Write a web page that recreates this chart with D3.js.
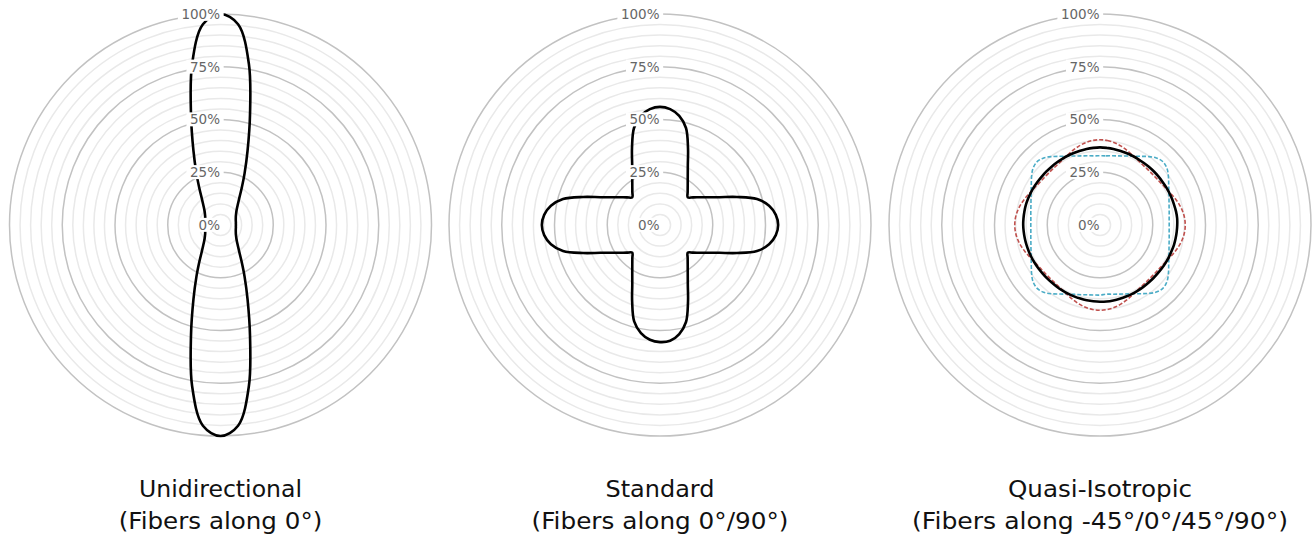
<!DOCTYPE html>
<html>
<head>
<meta charset="utf-8">
<script src="https://cdn.jsdelivr.net/npm/d3@7"></script>
<style>
  html, body { margin: 0; padding: 0; background: #fff; }
  svg { display: block; }
</style>
</head>
<body>
<svg id="chart" width="1314" height="536"></svg>
<script>
// ---- data ----
const angles = [0,5,10,15,20,25,30,35,40,45,50,55,60,65,70,75,80,85,
                90,95,100,105,110,115,120,125,130,135,140,145,150,155,160,165,170,175,
                180,185,190,195,200,205,210,215,220,225,230,235,240,245,250,255,260,265,
                270,275,280,285,290,295,300,305,310,315,320,325,330,335,340,345,350,355];

const unidirectional = [100,95.5,77.5,54,37.5,27,20,15.5,12.8,11,9.8,9,8.4,8,7.7,7.5,7.4,7.3,
                        7.3,7.3,7.4,7.5,7.7,8,8.4,9,9.8,11,12.8,15.5,20,27,37.5,54,77.5,95.5,
                        100,95.5,77.5,54,37.5,27,20,15.5,12.8,11,9.8,9,8.4,8,7.7,7.5,7.4,7.3,
                        7.3,7.3,7.4,7.5,7.7,8,8.4,9,9.8,11,12.8,15.5,20,27,37.5,54,77.5,95.5];

const standard = [56,55.1,52.5,47.6,38.8,31.2,26.3,22.9,20.4,18.6,20.4,22.9,26.3,31.2,38.8,47.6,52.5,55.1,
                  56,55.1,52.5,47.6,38.8,31.2,26.3,22.9,20.4,18.6,20.4,22.9,26.3,31.2,38.8,47.6,52.5,55.1,
                  55.5,54.6,52,47.3,38.6,31.1,26.3,22.9,20.4,18.6,20.4,22.9,26.3,31.2,38.8,47.6,52.5,55.1,
                  56,55.1,52.5,47.6,38.8,31.2,26.3,22.9,20.4,18.6,20.4,22.9,26.3,31.2,38.8,47.6,52.5,55.1];

const quasiBlack = [36.8,36.7,36.6,36.4,36.3,36.2,36.1,36.0,36.0,36.0,36.0,36.0,36.1,36.2,36.3,36.4,36.6,36.7,
                    36.6,36.5,36.4,36.3,36.1,36.0,35.9,35.8,35.7,35.7,35.7,35.8,35.9,36.0,36.1,36.2,36.3,36.4,
                    36.4,36.3,36.2,36.1,36.0,35.9,35.8,35.7,35.6,35.6,35.6,35.7,35.8,35.9,36.0,36.1,36.2,36.3,
                    36.4,36.4,36.4,36.4,36.3,36.2,36.1,36.0,35.9,35.9,35.9,36.0,36.1,36.2,36.3,36.4,36.6,36.7];

const quasiRed = [40.4,40.2,39.6,38.7,37.6,36.5,35.6,35.0,34.7,34.6,34.7,35.0,35.6,36.5,37.6,38.7,39.6,40.2,
                  40.4,40.2,39.6,38.7,37.6,36.5,35.6,35.0,34.7,34.6,34.7,35.0,35.6,36.5,37.6,38.7,39.6,40.2,
                  40.4,40.2,39.6,38.7,37.6,36.5,35.6,35.0,34.7,34.6,34.7,35.0,35.6,36.5,37.6,38.7,39.6,40.2,
                  40.4,40.2,39.6,38.7,37.6,36.5,35.6,35.0,34.7,34.6,34.7,35.0,35.6,36.5,37.6,38.7,39.6,40.2];

const quasiCyan = [32.8,32.9,33.3,33.9,34.8,36.0,37.6,39.6,41.5,42.3,41.5,39.6,37.6,36.0,34.8,33.9,33.3,32.9,
                   32.8,32.9,33.3,33.9,34.8,36.0,37.6,39.6,41.5,42.3,41.5,39.6,37.6,36.0,34.8,33.9,33.3,32.9,
                   33.2,33.3,33.6,34.2,35.0,36.2,37.8,39.8,41.6,42.3,41.5,39.6,37.6,36.0,34.8,33.9,33.3,32.9,
                   32.8,32.9,33.3,33.9,34.8,36.0,37.6,39.6,41.5,42.3,41.5,39.6,37.6,36.0,34.8,33.9,33.3,32.9];

const majorTicks = [0, 25, 50, 75, 100];
const tickLabels = ["0%", "25%", "50%", "75%", "100%"];
const minorTicks = [5,10,15,20,30,35,40,45,55,60,65,70,80,85,90,95];

const titleLine1 = ["Unidirectional", "Standard", "Quasi-Isotropic"];
const titleLine2 = ["(Fibers along 0°)", "(Fibers along 0°/90°)", "(Fibers along -45°/0°/45°/90°)"];

const panels = [
  { series: [{ values: unidirectional, color: "#000", width: 2.6, dash: null }] },
  { series: [{ values: standard, color: "#000", width: 2.6, dash: null }] },
  { series: [
      { values: quasiCyan, color: "#4bacc6", width: 1.6, dash: "4,2" },
      { values: quasiRed, color: "#c0504d", width: 1.6, dash: "4,2" },
      { values: quasiBlack, color: "#000", width: 2.6, dash: null }
  ] }
];

// ---- layout ----
const svg = d3.select("#chart");
const centers = [220.5, 660, 1100];
const cy = 225;
const rScale = d3.scaleLinear().domain([0, 100]).range([0, 211]);
const font = "'DejaVu Sans', Verdana, sans-serif";
// rendered widths of the title lines (Verdana-like metrics)
const line1Width = [163, 109, 184];
const line2Width = [203.5, 257, 376];

panels.forEach((p, i) => {
  const g = svg.append("g").attr("transform", `translate(${centers[i]},${cy})`);

  g.selectAll("circle.minor").data(minorTicks).join("circle")
    .attr("class", "minor")
    .attr("r", d => rScale(d))
    .attr("fill", "none").attr("stroke", "#e9e9e9").attr("stroke-width", 1.5);

  g.selectAll("circle.major").data(majorTicks.filter(d => d > 0)).join("circle")
    .attr("class", "major")
    .attr("r", d => rScale(d))
    .attr("fill", "none").attr("stroke", "#c2c2c2").attr("stroke-width", 1.5);

  const line = d3.lineRadial()
    .angle((d, k) => angles[k] * Math.PI / 180)
    .radius(d => rScale(d))
    .curve(d3.curveCatmullRomClosed.alpha(0.5));

  p.series.forEach(s => {
    g.append("path")
      .datum(s.values)
      .attr("d", line)
      .attr("fill", "none")
      .attr("stroke", s.color)
      .attr("stroke-width", s.width)
      .attr("stroke-dasharray", s.dash)
      .attr("stroke-linejoin", "round");
  });

  const labs = g.selectAll("g.tick").data(majorTicks).join("g")
    .attr("class", "tick")
    .attr("transform", d => `translate(0,${-rScale(d)})`);
  const texts = labs.append("text")
    .attr("x", -0.5)
    .attr("y", 0)
    .attr("dy", "0.36em")
    .attr("text-anchor", "end")
    .attr("font-family", font)
    .attr("font-size", 13.5)
    .attr("fill", "#666")
    .text((d, k) => tickLabels[k]);
  texts.each(function () {
    const bb = this.getBBox();
    d3.select(this.parentNode).insert("rect", "text")
      .attr("x", bb.x - 3.5).attr("y", bb.y + 1)
      .attr("width", bb.width + 7).attr("height", bb.height - 2)
      .attr("fill", "#fff");
  });

  svg.append("text")
    .attr("x", centers[i]).attr("y", 496.5)
    .attr("text-anchor", "middle")
    .attr("font-family", font)
    .attr("font-size", 23.5)
    .attr("fill", "#111")
    .attr("textLength", line1Width[i])
    .attr("lengthAdjust", "spacingAndGlyphs")
    .text(titleLine1[i]);
  svg.append("text")
    .attr("x", centers[i]).attr("y", 529)
    .attr("text-anchor", "middle")
    .attr("font-family", font)
    .attr("font-size", 23.5)
    .attr("fill", "#111")
    .attr("textLength", line2Width[i])
    .attr("lengthAdjust", "spacingAndGlyphs")
    .text(titleLine2[i]);
});
</script>
</body>
</html>
